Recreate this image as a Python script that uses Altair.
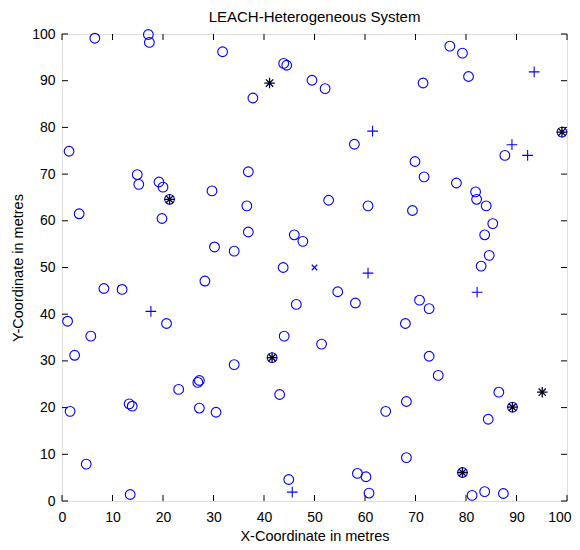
import altair as alt
import pandas as pd

# Normal nodes (circles)
circ_x = [6.5, 17.1, 17.3, 31.8, 43.9, 44.5, 37.8, 1.4, 14.9, 36.9, 19.2, 15.2, 20.0, 21.3, 29.7,
          3.4, 19.8, 36.6, 36.9, 30.2, 34.1, 46.0, 43.8, 28.3, 8.3, 11.9, 1.1, 20.7, 5.7, 46.4, 44.0,
          71.7, 78.1, 81.9, 82.1, 84.0, 85.3, 83.7, 84.6, 83.0, 52.8, 60.6, 69.4, 47.7, 54.6, 58.1,
          70.8, 72.7, 68.0, 51.4, 49.5, 52.1, 57.9, 71.5, 76.8, 79.3, 80.5, 99.0, 87.7, 69.9,
          2.5, 1.6, 4.8, 13.5, 13.3, 13.9, 23.1, 26.9, 27.2, 27.2, 30.5, 34.1, 41.6, 43.1, 44.9,
          72.7, 74.5, 68.2, 64.1, 86.5, 89.2, 84.4, 68.2, 58.5, 60.2, 60.8, 79.3, 81.2, 83.7, 87.4]
circ_y = [99.1, 99.9, 98.2, 96.2, 93.7, 93.3, 86.3, 74.9, 69.9, 70.5, 68.3, 67.8, 67.2, 64.6, 66.4,
          61.5, 60.5, 63.2, 57.6, 54.4, 53.5, 57.0, 50.0, 47.1, 45.5, 45.3, 38.5, 38.0, 35.3, 42.1, 35.3,
          69.4, 68.1, 66.2, 64.6, 63.2, 59.4, 57.0, 52.6, 50.3, 64.4, 63.2, 62.2, 55.6, 44.8, 42.4,
          43.0, 41.2, 38.0, 33.6, 90.1, 88.3, 76.4, 89.5, 97.4, 95.9, 90.9, 79.0, 74.0, 72.7,
          31.2, 19.2, 7.9, 1.4, 20.8, 20.3, 23.9, 25.4, 25.8, 19.9, 19.0, 29.2, 30.7, 22.8, 4.6,
          31.0, 26.9, 21.3, 19.2, 23.3, 20.1, 17.5, 9.3, 5.9, 5.2, 1.7, 6.1, 1.2, 2.0, 1.6]

# Advanced nodes (plus)
plus_x = [17.6, 82.2, 60.6, 61.5, 93.5, 89.1, 92.2, 45.6]
plus_y = [40.6, 44.7, 48.8, 79.2, 91.9, 76.3, 74.0, 1.9]

# Cluster heads (asterisk)
ch_x = [41.1, 21.3, 99.0, 41.6, 89.2, 95.1, 79.3]
ch_y = [89.5, 64.6, 79.0, 30.7, 20.1, 23.3, 6.1]

# Sink (x)
sink_x = [50.0]
sink_y = [50.0]

ticks = [0, 10, 20, 30, 40, 50, 60, 70, 80, 90, 100]

W, H = 505, 467
FONT = "Liberation Sans, Arial, Helvetica, sans-serif"
BLUE = "#0000ff"

xs = alt.Scale(domain=[0, 100], nice=False, zero=False)
ys = alt.Scale(domain=[0, 100], nice=False, zero=False)

xaxis = alt.Axis(values=ticks, title="X-Coordinate in metres", grid=False, domain=False, ticks=False,
                 labelPadding=9, titlePadding=5, labelFontSize=14, titleFontSize=14.5,
                 labelFont=FONT, titleFont=FONT, labelColor="black", titleColor="black",
                 titleFontWeight="normal", labelFlush=True, labelFlushOffset=4)
yaxis = alt.Axis(values=ticks, title="Y-Coordinate in metres", grid=False, domain=False, ticks=False,
                 labelPadding=7, titlePadding=6, labelFontSize=14, titleFontSize=14.5,
                 labelFont=FONT, titleFont=FONT, labelColor="black", titleColor="black",
                 titleFontWeight="normal", labelFlush=False)

circ_df = pd.DataFrame({"x": circ_x, "y": circ_y})
plus_df = pd.DataFrame({"x": plus_x, "y": plus_y})
ch_df = pd.DataFrame({"x": ch_x, "y": ch_y})
sink_df = pd.DataFrame({"x": sink_x, "y": sink_y})
tick_df = pd.DataFrame({"t": ticks})

circles = alt.Chart(circ_df).mark_point(shape="circle", filled=False, color=BLUE, size=95,
                                        strokeWidth=1.1, opacity=1).encode(
    x=alt.X("x:Q", scale=xs, axis=xaxis),
    y=alt.Y("y:Q", scale=ys, axis=yaxis),
)

pluses = alt.Chart(plus_df).mark_point(shape="M-1,0H1M0,-1V1", filled=False, color=BLUE, size=115,
                                       strokeWidth=1.1, opacity=1).encode(
    x=alt.X("x:Q", scale=xs), y=alt.Y("y:Q", scale=ys))

stars = alt.Chart(ch_df).mark_point(
    shape="M-1,0H1M0,-1V1M-0.7,-0.7L0.7,0.7M-0.7,0.7L0.7,-0.7",
    filled=False, color="#000022", size=110, strokeWidth=1.3, opacity=1).encode(
    x=alt.X("x:Q", scale=xs), y=alt.Y("y:Q", scale=ys))

sink = alt.Chart(sink_df).mark_point(shape="M-1,-1L1,1M-1,1L1,-1", filled=False, color=BLUE, size=30,
                                     strokeWidth=1.1, opacity=1).encode(
    x=alt.X("x:Q", scale=xs), y=alt.Y("y:Q", scale=ys))

tl = 6
tick_b = alt.Chart(tick_df).mark_rule(color="black", strokeWidth=1).encode(
    x=alt.X("t:Q", scale=xs), y=alt.value(H), y2=alt.value(H - tl))
tick_t = alt.Chart(tick_df).mark_rule(color="black", strokeWidth=1).encode(
    x=alt.X("t:Q", scale=xs), y=alt.value(0), y2=alt.value(tl))
tick_l = alt.Chart(tick_df).mark_rule(color="black", strokeWidth=1).encode(
    y=alt.Y("t:Q", scale=ys), x=alt.value(0), x2=alt.value(tl))
tick_r = alt.Chart(tick_df).mark_rule(color="black", strokeWidth=1).encode(
    y=alt.Y("t:Q", scale=ys), x=alt.value(W), x2=alt.value(W - tl))

chart = alt.layer(tick_b, tick_t, tick_l, tick_r, circles, pluses, stars, sink).properties(
    width=W, height=H,
    title=alt.TitleParams("LEACH-Heterogeneous System", font=FONT, fontSize=15, fontWeight="normal",
                          color="black", anchor="middle", offset=2),
    autosize=alt.AutoSizeParams(type="none"),
    padding={"left": 54, "top": 26, "right": 5, "bottom": 41},
).configure_view(stroke="black", strokeWidth=1.8).configure(background="white")

chart.save("out.html", embed_options={"renderer": "svg", "actions": False})
